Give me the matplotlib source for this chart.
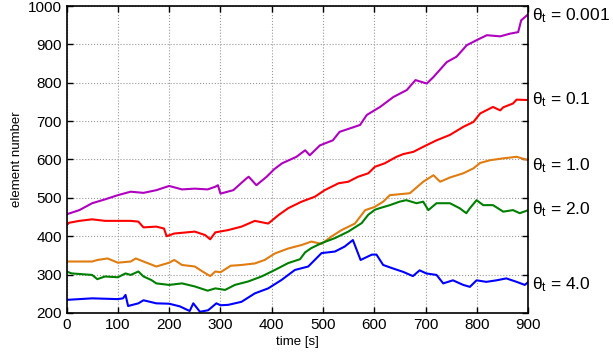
import matplotlib
matplotlib.use("Agg")
import matplotlib.pyplot as plt

plt.rcParams['font.family'] = ['Liberation Sans', 'DejaVu Sans']
plt.rcParams['mathtext.fontset'] = 'custom'
plt.rcParams['mathtext.rm'] = 'Liberation Sans'
plt.rcParams['mathtext.it'] = 'Liberation Sans'

t_purple = [0, 25, 50, 75, 100, 125, 150, 175, 200, 225, 250, 275, 290, 295, 300, 325, 350, 355, 370, 390, 405, 420, 448, 465, 474, 494, 519, 532, 552, 572, 585, 611, 637, 663, 680, 702, 715, 741, 760, 780, 799, 819, 845, 864, 880, 886, 900]
v_purple = [457, 468, 486, 496, 507, 516, 513, 520, 531, 522, 524, 522, 529, 533, 511, 520, 550, 555, 533, 555, 575, 590, 607, 624, 611, 637, 650, 672, 681, 690, 716, 737, 763, 781, 807, 798, 815, 854, 868, 898, 911, 924, 921, 928, 932, 963, 979]

t_red = [0, 5, 25, 50, 75, 100, 125, 140, 150, 175, 190, 195, 210, 250, 270, 280, 290, 315, 341, 367, 393, 413, 432, 458, 484, 503, 530, 549, 568, 588, 601, 620, 643, 656, 676, 695, 721, 747, 773, 793, 806, 831, 845, 851, 870, 877, 900]
v_red = [429, 435, 440, 444, 440, 440, 440, 438, 423, 425, 420, 400, 407, 412, 403, 392, 410, 416, 425, 440, 433, 455, 473, 490, 503, 520, 538, 542, 555, 564, 581, 590, 607, 614, 620, 633, 650, 664, 685, 698, 720, 737, 728, 736, 746, 756, 755]

t_orange = [0, 50, 60, 80, 100, 125, 135, 150, 175, 200, 210, 225, 250, 265, 280, 290, 300, 320, 341, 367, 386, 406, 432, 458, 477, 497, 516, 536, 562, 582, 600, 617, 630, 669, 695, 715, 728, 747, 773, 793, 806, 825, 851, 877, 900]
v_orange = [334, 334, 338, 342, 331, 334, 342, 334, 321, 331, 338, 325, 321, 308, 296, 308, 306, 323, 325, 329, 338, 355, 368, 377, 386, 380, 399, 416, 433, 468, 476, 490, 507, 512, 542, 559, 542, 553, 564, 577, 591, 598, 603, 607, 598]

t_green = [0, 10, 50, 60, 75, 100, 115, 125, 140, 150, 165, 175, 200, 225, 250, 275, 290, 309, 328, 354, 380, 406, 432, 455, 465, 477, 497, 523, 549, 575, 588, 601, 610, 630, 649, 662, 682, 695, 705, 721, 747, 766, 779, 786, 799, 812, 831, 851, 870, 883, 900]
v_green = [308, 303, 299, 288, 295, 293, 303, 299, 308, 295, 286, 277, 273, 277, 269, 258, 264, 260, 273, 282, 295, 312, 330, 340, 358, 369, 382, 395, 412, 434, 456, 469, 473, 481, 490, 494, 486, 490, 468, 486, 486, 473, 460, 473, 494, 481, 481, 464, 468, 460, 468]

t_blue = [0, 50, 100, 110, 115, 120, 140, 150, 175, 200, 221, 240, 247, 260, 276, 292, 300, 315, 341, 367, 393, 419, 445, 471, 497, 523, 542, 558, 573, 595, 604, 617, 636, 656, 675, 688, 701, 721, 734, 753, 773, 786, 799, 818, 838, 857, 877, 893, 900]
v_blue = [234, 238, 236, 238, 247, 218, 225, 233, 225, 224, 217, 205, 225, 203, 207, 225, 220, 221, 229, 251, 264, 286, 312, 321, 356, 360, 373, 390, 338, 352, 352, 325, 316, 307, 296, 311, 303, 299, 277, 285, 273, 268, 285, 281, 285, 290, 281, 273, 281]

labels = [r'$\theta_t$ = 0.001', r'$\theta_t$ = 0.1', r'$\theta_t$ = 1.0', r'$\theta_t$ = 2.0', r'$\theta_t$ = 4.0']
label_y = [976, 755, 585, 468, 273]

fig = plt.figure(figsize=(6.13, 3.56), dpi=100)
ax = fig.add_axes([0.1085, 0.121, 0.7535, 0.862])

series = [(t_purple, v_purple, '#b000c0'),
          (t_red, v_red, '#ff0000'),
          (t_orange, v_orange, '#e07c10'),
          (t_green, v_green, '#008000'),
          (t_blue, v_blue, '#0000ff')]
for t, v, c in series:
    ax.plot(t, v, color=c, lw=1.5)

ax.set_xlim(0, 900)
ax.set_ylim(200, 1000)
ax.set_xticks(range(0, 901, 100))
ax.set_yticks(range(200, 1001, 100))
ax.grid(True, linestyle=':', color='#999999', lw=0.8)
ax.tick_params(direction='in', top=True, right=True, labelsize=11, length=4, width=1)
for s in ax.spines.values():
    s.set_linewidth(1.2)
ax.set_xlabel('time [s]', fontsize=9.5, labelpad=3)
ax.set_ylabel('element number', fontsize=9.5, labelpad=3)

for lab, y in zip(labels, label_y):
    ax.annotate(lab, xy=(1.0, y), xycoords=('axes fraction', 'data'),
                xytext=(2.5, 0), textcoords='offset points', va='center', ha='left',
                fontsize=12.5, annotation_clip=False)

fig.savefig('out.png', dpi=100)
